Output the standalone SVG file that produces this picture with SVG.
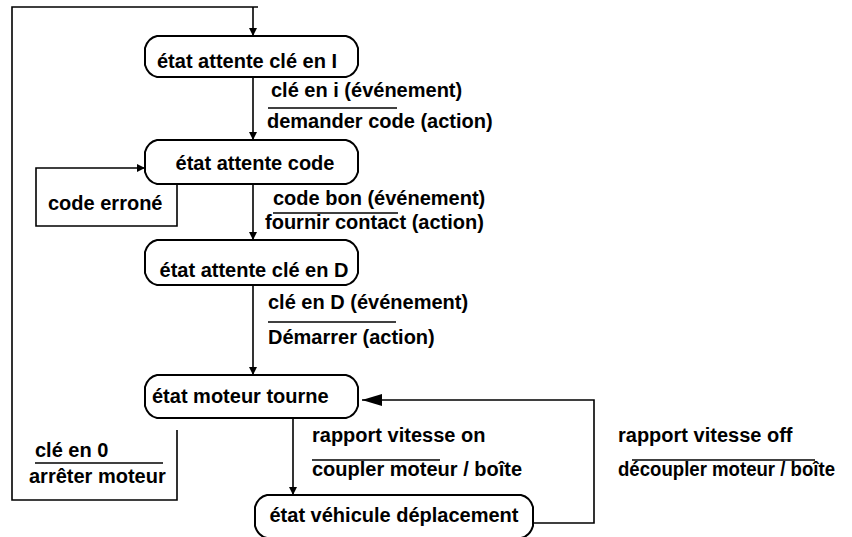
<svg xmlns="http://www.w3.org/2000/svg" width="852" height="537" viewBox="0 0 852 537">
<style>
  .node { fill: #ffffff; stroke: #000; stroke-width: 2; }
  .conn { fill: none; stroke: #000; stroke-width: 1.6; }
  .sep { fill: none; stroke: #000; stroke-width: 1.6; }
  text { font-family: "Liberation Sans", Arial, sans-serif; font-weight: bold; font-size: 20px; fill: #000; }
  .c { text-anchor: middle; }
</style>
<defs>
  <marker id="arr" markerUnits="userSpaceOnUse" markerWidth="8" markerHeight="12" refX="8" refY="5" orient="auto">
    <path d="M0,1 L8,5 L0,9 z" fill="#000"/>
  </marker>
  <marker id="big" markerUnits="userSpaceOnUse" markerWidth="22" markerHeight="14" refX="20" refY="7" orient="auto">
    <path d="M0,1 L20,7 L0,13 z" fill="#000"/>
  </marker>
</defs>
<rect width="852" height="537" fill="#ffffff"/>
<g id="connectors">
  <path class="conn" d="M177,430 V500 H12 V7 H258"/>
  <path class="conn" d="M253,7 V36" marker-end="url(#arr)"/>
  <path class="conn" d="M253,77 V140" marker-end="url(#arr)"/>
  <path class="conn" d="M177,184 V226 H36 V168 H145" marker-end="url(#arr)"/>
  <path class="conn" d="M253,184 V240" marker-end="url(#arr)"/>
  <path class="conn" d="M253,285 V375" marker-end="url(#arr)"/>
  <path class="conn" d="M293,418 V495" marker-end="url(#arr)"/>
  <path class="conn" d="M533,523 H594 V400 H362" marker-end="url(#big)"/>
</g>
<g id="labels">
  <text x="271" y="97">clé en i (événement)</text>
  <line class="sep" x1="268" y1="108" x2="397" y2="108"/>
  <text x="267" y="128">demander code (action)</text>
  <text x="48" y="210">code erroné</text>
  <text x="273" y="205">code bon (événement)</text>
  <line class="sep" x1="273" y1="213" x2="398" y2="213"/>
  <text x="265" y="229">fournir contact (action)</text>
  <text x="268" y="309">clé en D (événement)</text>
  <line class="sep" x1="268" y1="322" x2="396" y2="322"/>
  <text x="268" y="344">Démarrer (action)</text>
  <text x="35" y="457">clé en 0</text>
  <line class="sep" x1="35" y1="463" x2="163" y2="463"/>
  <text x="29" y="483">arrêter moteur</text>
  <text x="312" y="442">rapport vitesse on</text>
  <line class="sep" x1="312" y1="460" x2="440" y2="460"/>
  <text x="312" y="476">coupler moteur / boîte</text>
  <text x="618" y="442">rapport vitesse off</text>
  <line class="sep" x1="632" y1="460" x2="815" y2="460"/>
  <text x="618" y="476" textLength="217" lengthAdjust="spacingAndGlyphs">découpler moteur / boîte</text>
</g>
<g id="n1">
  <path class="node" d="M157,36 H346 Q355,38 358,48 V65 Q355,75 346,77 H157 Q148,75 145,65 V48 Q148,38 157,36 Z"/>
  <text x="157" y="68">état attente clé en I</text>
</g>
<g id="n2">
  <path class="node" d="M157,140 H346 Q355,142 358,152 V172 Q355,182 346,184 H157 Q148,182 145,172 V152 Q148,142 157,140 Z"/>
  <text class="c" x="255" y="170">état attente code</text>
</g>
<g id="n3">
  <path class="node" d="M157,240 H346 Q355,242 358,252 V273 Q355,283 346,285 H157 Q148,283 145,273 V252 Q148,242 157,240 Z"/>
  <text class="c" x="254" y="277">état attente clé en D</text>
</g>
<g id="n4">
  <path class="node" d="M157,375 H346 Q355,377 358,387 V406 Q355,416 346,418 H157 Q148,416 145,406 V387 Q148,377 157,375 Z"/>
  <text x="152" y="403">état moteur tourne</text>
</g>
<g id="n5">
  <path class="node" d="M267,495 H521 Q530,497 533,507 V526 Q530,536 521,538 H267 Q258,536 255,526 V507 Q258,497 267,495 Z"/>
  <text class="c" x="394" y="522">état véhicule déplacement</text>
</g>
</svg>
